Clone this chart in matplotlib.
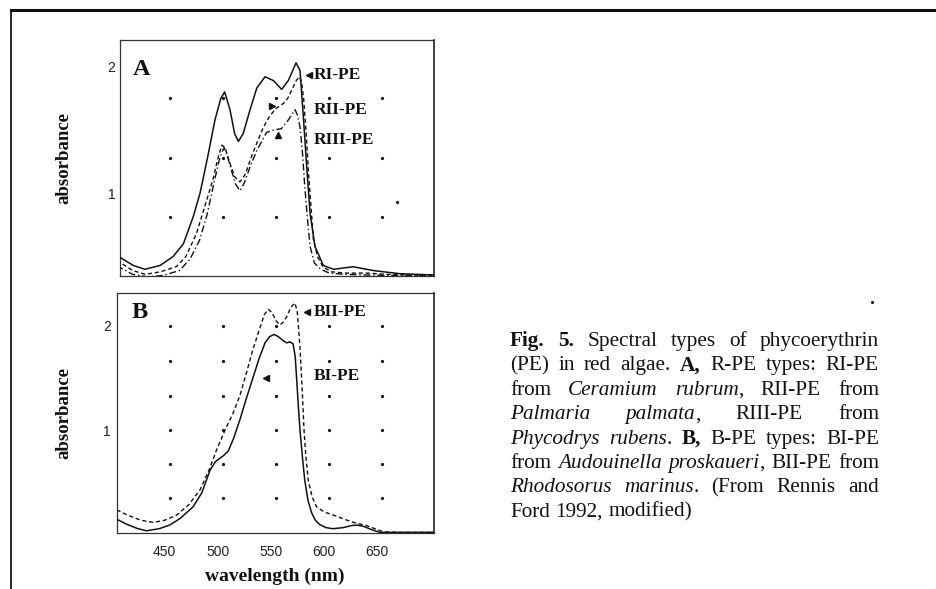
import matplotlib
matplotlib.use("Agg")
import matplotlib.pyplot as plt
from matplotlib.lines import Line2D

# ---------------- data ----------------
# Panel A: R-phycoerythrin types
ri_wl = [405, 409, 420.6, 431.6, 445.8, 458, 467.7, 477, 483.4, 490.7, 497.5, 503, 506.6, 511.6,
         516, 519.5, 524, 530.5, 536.8, 544.6, 552.4, 560.3, 566.5, 573.8, 577.5, 580.6, 583.8,
         587, 591.6, 599.5, 609, 627.5, 646.5, 671.6, 704]
ri_abs = [0.50, 0.49, 0.43, 0.40, 0.43, 0.50, 0.60, 0.815, 1.00, 1.29, 1.58, 1.75, 1.80, 1.66,
          1.47, 1.41, 1.47, 1.66, 1.83, 1.92, 1.89, 1.82, 1.89, 2.03, 1.97, 1.61, 1.21,
          0.84, 0.58, 0.43, 0.40, 0.42, 0.39, 0.365, 0.355]

rii_wl = [405, 409, 420, 432, 446, 461, 470, 480, 488, 496, 500, 504, 507, 511, 516, 521, 526, 531,
          537, 543, 549, 555, 562, 566, 570, 574, 577, 579, 581, 583.5, 585.5, 588, 590, 594, 599,
          607, 620, 640, 660, 680, 704]
rii_abs = [0.47, 0.45, 0.39, 0.36, 0.38, 0.42, 0.50, 0.68, 0.90, 1.12, 1.27, 1.38, 1.36, 1.25, 1.13,
           1.09, 1.15, 1.27, 1.40, 1.52, 1.61, 1.67, 1.71, 1.75, 1.82, 1.89, 1.92, 1.88, 1.74,
           1.45, 1.16, 0.88, 0.64, 0.50, 0.42, 0.38, 0.37, 0.37, 0.36, 0.355, 0.35]

riii_wl = [405, 409, 420, 434, 448, 464, 474, 483, 490, 497, 502, 506, 509, 513, 517, 521, 525,
           531, 537, 546, 553, 560, 566.6, 572.8, 575, 577.6, 580, 582, 584.5, 587, 591, 597,
           605, 620, 640, 670, 704]
riii_abs = [0.43, 0.41, 0.36, 0.34, 0.35, 0.39, 0.48, 0.63, 0.83, 1.10, 1.28, 1.36, 1.30, 1.18,
            1.07, 1.02, 1.08, 1.22, 1.34, 1.48, 1.50, 1.51, 1.58, 1.66, 1.62, 1.52, 1.30, 1.05,
            0.80, 0.58, 0.45, 0.40, 0.37, 0.36, 0.355, 0.35, 0.35]

# Panel B: B-phycoerythrin types
bi_wl = [405, 415, 425, 433, 445, 455, 465, 477, 485, 493, 498, 502, 506, 510, 515, 521, 527,
         533.6, 539, 544.6, 549, 553, 557, 561.8, 565, 568, 571, 573, 574.4, 576, 577.5, 580,
         582, 585, 588.5, 592, 596, 602, 608.6, 618, 626, 631, 638, 645, 652.8, 670, 704]
bi_abs = [0.15, 0.10, 0.06, 0.04, 0.06, 0.095, 0.16, 0.27, 0.40, 0.62, 0.70, 0.73, 0.76, 0.80,
          0.92, 1.10, 1.30, 1.51, 1.68, 1.83, 1.89, 1.91, 1.89, 1.85, 1.83, 1.84, 1.82, 1.70,
          1.48, 1.22, 1.00, 0.72, 0.52, 0.33, 0.21, 0.14, 0.10, 0.07, 0.06, 0.07, 0.09, 0.095,
          0.08, 0.05, 0.025, 0.025, 0.025]

bii_wl = [405, 415, 428, 439.5, 450, 461.5, 473, 483.4, 492, 499, 507, 514.5, 521, 527, 533, 540,
          544, 547.7, 551, 555, 558.7, 562, 565, 569, 572.8, 575, 577.5, 579.5, 581.3, 583, 585.3,
          589, 593, 600, 608.9, 618, 627.7, 640, 648, 656, 670, 704]
bii_abs = [0.24, 0.19, 0.14, 0.12, 0.14, 0.19, 0.29, 0.43, 0.62, 0.81, 1.00, 1.16, 1.33, 1.54,
           1.76, 1.98, 2.10, 2.15, 2.12, 2.04, 2.00, 2.03, 2.08, 2.17, 2.21, 2.12, 1.79, 1.40,
           1.00, 0.75, 0.52, 0.36, 0.27, 0.22, 0.19, 0.155, 0.12, 0.09, 0.06, 0.03, 0.025, 0.025]

x_ticks = [450, 500, 550, 600, 650]
y_ticks = [1, 2]

# faint dot grids printed on the plotting areas (plus one stray speck in A)
gridA_x = [455, 505, 555, 605, 655]
gridA_y = [0.81, 1.28, 1.75]
gridB_x = [455, 505, 555, 605, 655]
gridB_y = [0.35, 0.68, 1.0, 1.32, 1.66, 1.99]
strayA_x = [668.8]
strayA_y = [0.93]

CAPTION = [
    [("Fig. 5.", "b"), ("  Spectral types of phycoerythrin", "r")],
    [("(PE) in red algae. ", "r"), ("A,", "b"), (" R-PE types: RI-PE", "r")],
    [("from ", "r"), ("Ceramium rubrum", "i"), (", RII-PE from", "r")],
    [("Palmaria palmata", "i"), (", RIII-PE from", "r")],
    [("Phycodrys rubens", "i"), (". ", "r"), ("B,", "b"), (" B-PE types: BI-PE", "r")],
    [("from ", "r"), ("Audouinella proskaueri", "i"), (", BII-PE from", "r")],
    [("Rhodosorus marinus", "i"), (". (From Rennis and", "r")],
    [("Ford 1992, modified)", "r")],
]

# ---------------- layout helpers ----------------
W, H = 936, 589
fig = plt.figure(figsize=(W / 100, H / 100), dpi=100)
fig.patch.set_facecolor("white")

def fx(x):
    return x / W

def fy(y):
    return 1 - y / H

SERIF = ["Liberation Serif", "DejaVu Serif"]
SANS = ["Liberation Sans", "DejaVu Sans"]
INK = "#111111"

# outer frame (top and left rules)
fig.add_artist(Line2D([fx(11), 1.0], [fy(10), fy(10)], lw=2.2, color=INK))
fig.add_artist(Line2D([fx(11), fx(11)], [fy(10), 0.0], lw=1.3, color=INK))
fig.add_artist(Line2D([fx(872)], [fy(302)], ls="none", marker="o", ms=1.2, color=INK))

axA = fig.add_axes([fx(120), fy(276), (434 - 120) / W, (276 - 40) / H])
axB = fig.add_axes([fx(117), fy(533), (434 - 117) / W, (533 - 293) / H])

for ax in (axA, axB):
    for sp in ax.spines.values():
        sp.set_linewidth(0.9)
        sp.set_color("#333333")
    ax.spines["right"].set_linewidth(1.3)
    ax.tick_params(length=0, labelsize=10, colors="#222222")
    ax.set_yticks(y_ticks)
    ax.set_yticklabels([str(v) for v in y_ticks], family=SANS)
    ax.set_xlim(405.3, 703.6)

axA.set_xlim(408.1, 703.6)
axA.set_ylim(0.347, 2.21)
axB.set_ylim(0.019, 2.305)
axA.set_xticks([])
axB.set_xticks(x_ticks)
axB.set_xticklabels([str(v) for v in x_ticks], family=SANS)
axA.tick_params(axis="y", pad=3.5)
axB.tick_params(axis="y", pad=4.5)
axB.tick_params(axis="x", pad=9)

# dot grids
gx, gy = zip(*[(x, y) for y in gridA_y for x in gridA_x])
axA.plot(gx, gy, ls="none", marker="o", ms=1.3, color=INK, zorder=1)
axA.plot(strayA_x, strayA_y, ls="none", marker="o", ms=1.3, color=INK, zorder=1)
gx, gy = zip(*[(x, y) for y in gridB_y for x in gridB_x])
axB.plot(gx, gy, ls="none", marker="o", ms=1.3, color=INK, zorder=1)

# curves
axA.plot(ri_wl, ri_abs, color=INK, lw=1.1, ls="-", zorder=4)
axA.plot(rii_wl, rii_abs, color=INK, lw=1.0, ls=(0, (3, 2)), zorder=4)
axA.plot(riii_wl, riii_abs, color=INK, lw=1.0, ls=(0, (5, 2, 1, 2)), zorder=4)
axB.plot(bi_wl, bi_abs, color=INK, lw=1.1, ls="-", zorder=4)
axB.plot(bii_wl, bii_abs, color=INK, lw=1.0, ls=(0, (3, 2)), zorder=4)

lab_kw = dict(family=SERIF, weight="bold", fontsize=12.5, color=INK, va="center", ha="left",
              zorder=3, bbox=dict(facecolor="white", edgecolor="none", pad=0.5))
axA.text(590.5, 1.93, "RI-PE", **lab_kw)
axA.text(590.5, 1.66, "RII-PE", **lab_kw)
axA.text(590.5, 1.42, "RIII-PE", **lab_kw)
axB.text(590.5, 2.12, "BII-PE", **lab_kw)
axB.text(590.5, 1.51, "BI-PE", **lab_kw)

mk = dict(ls="none", color=INK, ms=4.5, zorder=5)
axA.plot([585.5], [1.93], marker="<", **mk)
axA.plot([551], [1.69], marker=">", **mk)
axA.plot([556.8], [1.46], marker="^", **mk)
axB.plot([584], [2.12], marker="<", **mk)
axB.plot([545.5], [1.50], marker="<", **mk)

axA.text(0.041, 0.85, "A", transform=axA.transAxes, family=SERIF, weight="bold",
         fontsize=17.5, color=INK, va="baseline", ha="left")
axB.text(0.047, 0.896, "B", transform=axB.transAxes, family=SERIF, weight="bold",
         fontsize=17.5, color=INK, va="baseline", ha="left")

# axis titles
fig.text(fx(64), fy(158), "absorbance", rotation=90, family=SERIF, weight="bold",
         fontsize=13.5, color=INK, ha="center", va="center")
fig.text(fx(64), fy(413), "absorbance", rotation=90, family=SERIF, weight="bold",
         fontsize=13.5, color=INK, ha="center", va="center")
fig.text(fx(275), fy(576), "wavelength (nm)", family=SERIF, weight="bold",
         fontsize=14, color=INK, ha="center", va="center")

# ---------------- justified caption ----------------
STY = {"r": dict(), "b": dict(weight="bold"), "i": dict(style="italic")}
renderer = fig.canvas.get_renderer()

def seg_width(text, st, size):
    t = fig.text(0, 0, text, family=SERIF, fontsize=size, **STY[st])
    w = t.get_window_extent(renderer).width
    t.remove()
    return w

def words_of(segs):
    words = [[]]
    for text, st in segs:
        parts = text.split(" ")
        for i, p in enumerate(parts):
            if i > 0:
                words.append([])
            if p:
                words[-1].append((p, st))
    return [w for w in words if w]

CAP_X0, CAP_X1 = 510, 879
CAP_Y0, CAP_DY = 341, 24.4

# pick the font size so the tightest line fills the measure with ordinary spacing
base = 12.0
sp0 = seg_width("a a", "r", base) - seg_width("aa", "r", base)
nat = []
for segs in CAPTION[:-1]:
    words = words_of(segs)
    tot = sum(seg_width(p, st, base) for w in words for p, st in w)
    nat.append(tot + sp0 * (len(words) - 1))
CAP_SIZE = base * (CAP_X1 - CAP_X0) / max(nat) * 0.99
space_w = seg_width("a a", "r", CAP_SIZE) - seg_width("aa", "r", CAP_SIZE)

for li, segs in enumerate(CAPTION):
    words = words_of(segs)
    widths = [[seg_width(p, st, CAP_SIZE) for p, st in w] for w in words]
    totals = [sum(ws) for ws in widths]
    if li < len(CAPTION) - 1 and len(words) > 1:
        gap = (CAP_X1 - CAP_X0 - sum(totals)) / (len(words) - 1)
    else:
        gap = space_w
    x = CAP_X0
    yb = CAP_Y0 + CAP_DY * li + 5
    for w, ws, tot in zip(words, widths, totals):
        xx = x
        for (p, st), pw in zip(w, ws):
            fig.text(fx(xx), fy(yb), p, family=SERIF, fontsize=CAP_SIZE, color=INK,
                     ha="left", va="baseline", **STY[st])
            xx += pw
        x += tot + gap

fig.savefig("out.png", dpi=100, facecolor="white")
